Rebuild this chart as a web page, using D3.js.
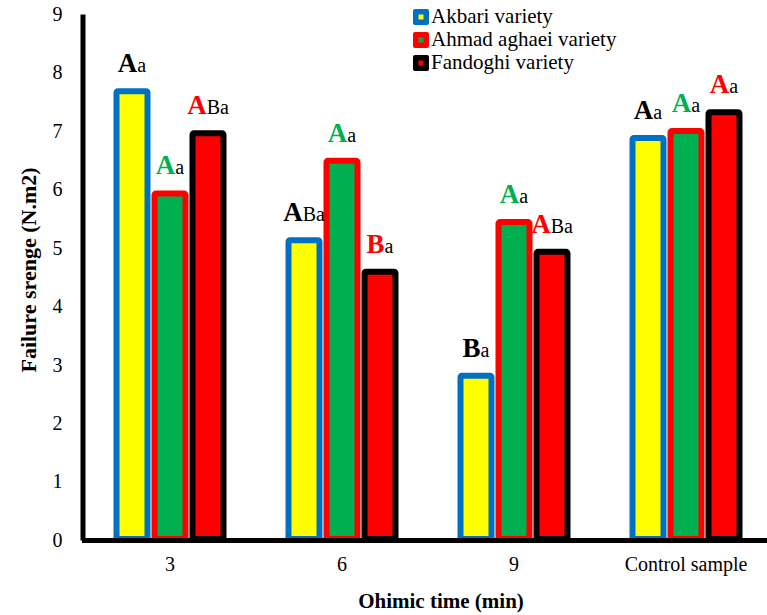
<!DOCTYPE html>
<html>
<head>
<meta charset="utf-8">
<script src="https://cdn.jsdelivr.net/npm/d3@7"></script>
<style>
    body { margin: 0; background: #fff; }
</style>
</head>
<body>
<div id="chart"></div>
<script>
// ohmic time groups
var categories = ['3', '6', '9', 'Control sample'];
var seriesNames = ['Akbari variety', 'Ahmad aghaei variety', 'Fandoghi variety'];
var yTicks = [0, 1, 2, 3, 4, 5, 6, 7, 8, 9];

// failure strength per variety
var akbariValues = [7.68, 5.13, 2.81, 6.88];
var ahmadValues = [5.93, 6.49, 5.44, 7.0];
var fandoghiValues = [6.96, 4.59, 4.93, 7.32];

// significance letters: big letter + small letters
var akbariBig = ['A', 'A', 'B', 'A'];
var akbariSmall = ['a', 'Ba', 'a', 'a'];
var ahmadBig = ['A', 'A', 'A', 'A'];
var ahmadSmall = ['a', 'a', 'a', 'a'];
var fandoghiBig = ['A', 'B', 'A', 'A'];
var fandoghiSmall = ['Ba', 'a', 'Ba', 'a'];

var FONT = '"Liberation Serif", "Times New Roman", serif';

var styles = [
    {fill: '#FFFF00', stroke: '#0070C0', letter: '#000000'},
    {fill: '#00B050', stroke: '#FF0000', letter: '#00B050'},
    {fill: '#FF0000', stroke: '#000000', letter: '#FF0000'}
];

var series = [
    {name: seriesNames[0], values: akbariValues, big: akbariBig, small: akbariSmall},
    {name: seriesNames[1], values: ahmadValues, big: ahmadBig, small: ahmadSmall},
    {name: seriesNames[2], values: fandoghiValues, big: fandoghiBig, small: fandoghiSmall}
];

var width = 767, height = 615;

var svg = d3.select('#chart').append('svg')
    .attr('width', width)
    .attr('height', height)
    .attr('font-family', FONT);

var x0 = d3.scaleBand()
    .domain(categories)
    .range([84, 772])
    .padding(0);

var x1 = d3.scaleBand()
    .domain(seriesNames)
    .range([-57, 57])
    .padding(0);

var y = d3.scaleLinear()
    .domain([0, 9])
    .range([540, 14]);

var barW = 31;

// flatten to one record per bar
var bars = [];
series.forEach(function(s, si) {
    categories.forEach(function(c, ci) {
        bars.push({cat: c, name: s.name, si: si, value: s.values[ci], big: s.big[ci], small: s.small[ci]});
    });
});

function barCenter(d) {
    return x0(d.cat) + x0.bandwidth() / 2 + x1(d.name) + x1.bandwidth() / 2;
}

svg.append('g').selectAll('rect')
    .data(bars)
    .enter().append('rect')
    .attr('x', function(d) { return barCenter(d) - barW / 2; })
    .attr('y', function(d) { return y(d.value); })
    .attr('width', barW)
    .attr('height', function(d) { return y(0) - y(d.value) - 1; })
    .attr('rx', 1.5)
    .style('fill', function(d) { return styles[d.si].fill; })
    .style('stroke', function(d) { return styles[d.si].stroke; })
    .style('stroke-width', 6)
    .style('stroke-linejoin', 'round');

// letters over bars
var labels = svg.append('g').selectAll('text')
    .data(bars)
    .enter().append('text')
    .attr('x', function(d) { return barCenter(d); })
    .attr('y', function(d) { return y(d.value) - 19; })
    .attr('text-anchor', 'middle')
    .style('font-family', FONT);

labels.append('tspan')
    .style('font-size', '27px')
    .style('font-weight', 'bold')
    .style('fill', function(d) { return styles[d.si].letter; })
    .text(function(d) { return d.big; });

labels.append('tspan')
    .style('font-size', '20px')
    .style('fill', '#000')
    .text(function(d) { return d.small; });

// Y axis
var yAxis = d3.axisLeft(y).tickValues(yTicks).tickSize(0).tickSizeOuter(0).tickPadding(20);
var gy = svg.append('g')
    .attr('transform', 'translate(82.5,0)')
    .attr('font-family', FONT)
    .call(yAxis);
gy.select('.domain').style('stroke', '#000').style('stroke-width', 5);
gy.selectAll('text')
    .style('font-family', FONT)
    .style('font-size', '20px')
    .style('fill', '#000');

// X axis
var xAxis = d3.axisBottom(x0).tickSize(0).tickSizeOuter(0).tickPadding(17);
var gx = svg.append('g')
    .attr('transform', 'translate(0,540)')
    .attr('font-family', FONT)
    .call(xAxis);
gx.select('.domain').style('stroke', '#000').style('stroke-width', 5).style('stroke-linecap', 'square');
gx.selectAll('text')
    .style('font-family', FONT)
    .style('font-size', '20px')
    .style('fill', '#000');

// axis titles
svg.append('text')
    .attr('x', 441)
    .attr('y', 608)
    .attr('text-anchor', 'middle')
    .style('font-family', FONT)
    .style('font-size', '21px')
    .style('font-weight', 'bold')
    .text('Ohimic time (min)');

svg.append('text')
    .attr('transform', 'translate(36,270) rotate(-90)')
    .attr('text-anchor', 'middle')
    .style('font-family', FONT)
    .style('font-size', '22px')
    .style('font-weight', 'bold')
    .text('Failure srenge (N.m2)');

// legend
var legend = svg.append('g').selectAll('g')
    .data(series)
    .enter().append('g')
    .attr('transform', function(d, i) { return 'translate(413,' + (9 + i * 23) + ')'; });

legend.append('rect')
    .attr('width', 16)
    .attr('height', 16)
    .attr('rx', 2)
    .style('fill', function(d, i) { return styles[i].stroke; });

legend.append('rect')
    .attr('x', 5.5)
    .attr('y', 5.5)
    .attr('width', 5)
    .attr('height', 5)
    .style('fill', function(d, i) { return styles[i].fill; });

legend.append('text')
    .attr('x', 18)
    .attr('y', 14)
    .style('font-family', FONT)
    .style('font-size', '21px')
    .style('fill', '#000')
    .text(function(d) { return d.name; });
</script>
</body>
</html>
